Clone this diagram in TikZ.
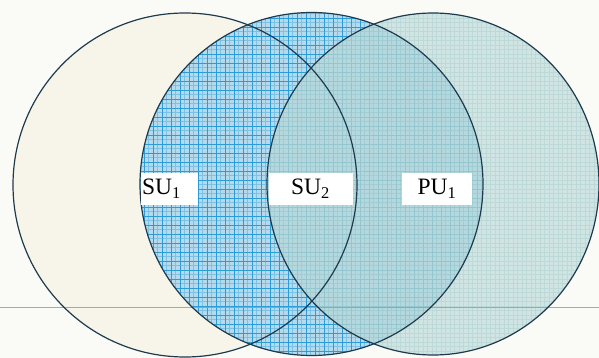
\documentclass[tikz,border=0pt]{standalone}
\usepackage{fontspec}
\setmainfont{Liberation Serif}
\definecolor{paper}{HTML}{FAFAF7}
\definecolor{cream}{HTML}{F7F5EA}
\definecolor{bluebase}{HTML}{B5D9ED}
\definecolor{bluefine}{HTML}{7CC2E4}
\definecolor{bluegrid}{HTML}{2E9CD4}
\definecolor{teal}{HTML}{B5D8D6}
\definecolor{tealgrid}{HTML}{A9CCCC}
\definecolor{rimcol}{HTML}{1E3B4D}
\definecolor{ruled}{HTML}{A68BD2}

\begin{document}
\begin{tikzpicture}[x=1pt,y=-1pt,
  rim/.style={draw=rimcol, line width=1.2pt},
  tag/.style={fill=white, inner sep=0pt, minimum height=32pt, font=\fontsize{23.5}{25}\selectfont}]

% Canvas
\useasboundingbox (0,0) rectangle (599,358);
\fill[paper] (0,0) rectangle (599,358);

% Centres
\coordinate (L) at (185,185);
\coordinate (M) at (311.5,184);
\coordinate (R) at (433,184);

% Left circle
\fill[cream] (L) circle[radius=172pt];

% Middle circle with grid
\begin{scope}
  \clip (M) circle[radius=171.5pt];
  \fill[bluebase] (0,0) rectangle (599,358);
  \draw[bluefine, line width=0.3pt, step=4.5pt] (0,0) grid (599,358);
  \draw[bluegrid, line width=0.8pt, step=9pt] (0,0) grid (599,358);
\end{scope}

% Right circle, printed over the others
\begin{scope}
  \clip (R) ellipse[x radius=166pt, y radius=171pt];
  \fill[teal, opacity=0.6] (0,0) rectangle (599,358);
  \draw[tealgrid, line width=0.3pt, step=4.5pt, opacity=0.5] (0,0) grid (599,358);
\end{scope}

% Ruled line of the page
\draw[ruled, line width=1pt, opacity=0.85] (0,307) -- (599,307);

% Outlines
\draw[rim] (L) circle[radius=172pt];
\draw[rim] (M) circle[radius=171.5pt];
\draw[rim] (R) ellipse[x radius=166pt, y radius=171pt];

% Labels
\node[tag, text width=54pt, inner xsep=1.5pt, align=left] (su1) at (169,189) {SU\textsubscript{1}};
\node[tag, minimum width=84pt] (su2) at (310.5,189) {SU\textsubscript{2}};
\node[tag, minimum width=70pt] (pu1) at (437,189) {PU\textsubscript{1}};

\end{tikzpicture}
\end{document}
